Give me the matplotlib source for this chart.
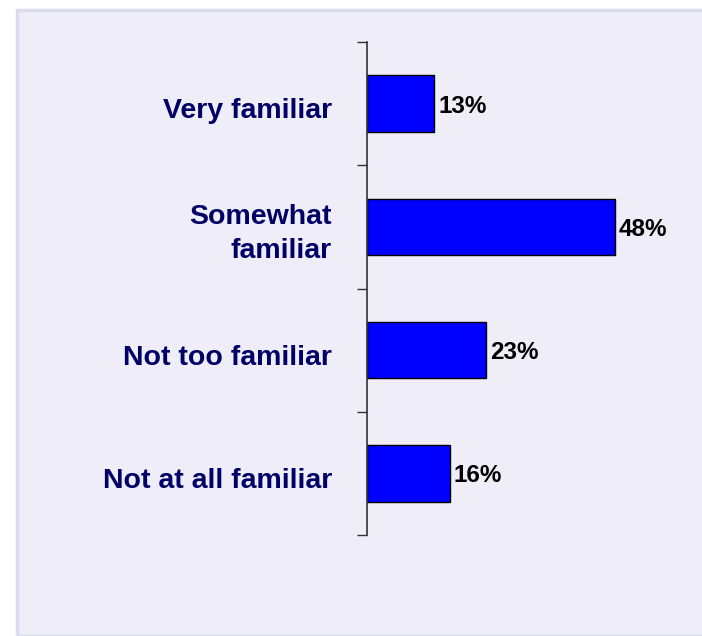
import matplotlib.pyplot as plt
from matplotlib.patches import Rectangle

categories = ['Very familiar', 'Somewhat\nfamiliar', 'Not too familiar', 'Not at all familiar']
values = [13, 48, 23, 16]

fig = plt.figure(figsize=(7.02, 6.36), dpi=100)
fig.patch.set_facecolor('white')

# light lavender panel behind the chart
fig.patches.append(Rectangle((17 / 702, 0), 1, 1 - 10 / 636, transform=fig.transFigure,
                             facecolor='#EEEDF8', edgecolor='#DCDAEE', linewidth=2.5, zorder=-1))

ax = fig.add_axes([367 / 702, 1 - 535 / 636, 320 / 702, 493 / 636])
ax.set_facecolor('none')
ax.set_zorder(2)

pos = list(range(len(categories)))
ax.barh(pos, values, height=0.46, color='#0000FF', edgecolor='black', linewidth=1.0)
ax.set_ylim(len(categories) - 0.5, -0.5)
ax.set_xlim(0, 62)

for p, v in zip(pos, values):
    ax.text(v + 0.8, p + 0.02, f'{v}%', va='center', ha='left', fontsize=17.5,
            fontweight='bold', color='black', family='Liberation Sans')

ax.set_yticks([p + 0.5 for p in [-1] + pos])
ax.set_yticklabels([])
for p, lab in zip(pos, categories):
    ax.text(-0.11, p + 0.06, lab, transform=ax.get_yaxis_transform(), ha='right', va='center',
            multialignment='right', fontsize=20.5, fontweight='bold', color='#000066',
            family='Liberation Sans', linespacing=1.4)
ax.tick_params(axis='y', which='major', length=7, width=1, color='#333333', direction='out')
ax.set_xticks([])

for s in ['top', 'right', 'bottom']:
    ax.spines[s].set_visible(False)
ax.spines['left'].set_color('#333333')
ax.spines['left'].set_linewidth(1.2)

fig.savefig('out.png', dpi=100, facecolor=fig.get_facecolor())
